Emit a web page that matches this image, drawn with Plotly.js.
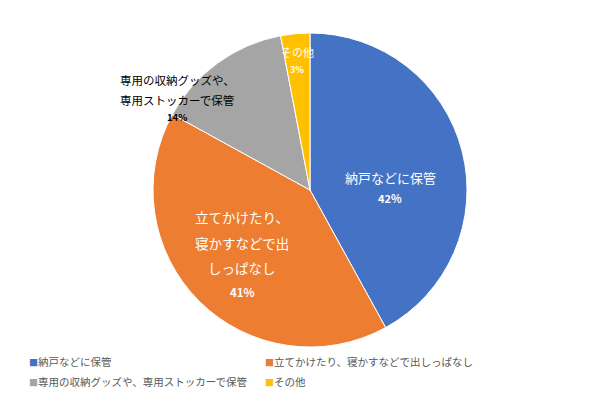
<!DOCTYPE html>
<html>
<head>
<meta charset="utf-8">
<script src="https://cdn.plot.ly/plotly-3.0.1.min.js"></script>
<style>html,body{margin:0;padding:0;background:#fff;}#chart{width:610px;height:394px;}</style>
</head>
<body>
<div id="chart"></div>
<script>
var categories = ['納戸などに保管', '立てかけたり、寝かすなどで出しっぱなし', '専用の収納グッズや、専用ストッカーで保管', 'その他'];
var sliceLabels = ['納戸などに保管', '立てかけたり、<br>寝かすなどで出<br>しっぱなし', '専用の収納グッズや、<br>専用ストッカーで保管', 'その他'];
var values = [42, 41, 14, 3];
var colors = ['#4472C4', '#ED7D31', '#A5A5A5', '#FFC000'];

var FONT = '"Noto Sans CJK JP", "Noto Sans", sans-serif';
var W = 610, H = 394;

var trace = {
  type: 'pie',
  values: values,
  labels: categories,
  sort: false,
  direction: 'clockwise',
  rotation: 0,
  textinfo: 'none',
  hoverinfo: 'label+percent',
  showlegend: false,
  marker: {colors: colors, line: {color: '#ffffff', width: 1}},
  domain: {x: [(310 - 157) / W, (310 + 157) / W], y: [(204 - 157) / H, (204 + 157) / H]}
};

// label positions (pixels) and styles
var labelPos = [
  {x: 390, y: 177, py: 198, size: 13, color: '#ffffff', lh: 25},
  {x: 242, y: 217, py: 292, size: 13.5, color: '#ffffff', lh: 25.5},
  {x: 177, y: 80, py: 117, size: 11.5, color: '#000000', lh: 20},
  {x: 297, y: 52, py: 69, size: 11, color: '#ffffff', lh: 17}
];

var annotations = [];
sliceLabels.forEach(function (t, i) {
  var p = labelPos[i];
  var lines = t.split('<br>');
  lines.forEach(function (ln, j) {
    annotations.push({
      xref: 'paper', yref: 'paper', x: p.x / W, y: 1 - (p.y + j * p.lh) / H,
      xanchor: 'center', yanchor: 'middle', showarrow: false, text: ln,
      font: {family: FONT, size: p.size, color: p.color}
    });
  });
  annotations.push({
    xref: 'paper', yref: 'paper', x: p.x / W, y: 1 - p.py / H,
    xanchor: 'center', yanchor: 'middle', showarrow: false,
    text: '<b>' + values[i] + '%</b>',
    font: {family: FONT, size: p.size - 2, color: p.color}
  });
});

// legend (two columns)
var legPos = [[27, 361], [263, 361], [27, 381], [263, 381]];
categories.forEach(function (c, i) {
  annotations.push({
    xref: 'paper', yref: 'paper', x: legPos[i][0] / W, y: 1 - legPos[i][1] / H,
    xanchor: 'left', yanchor: 'middle', showarrow: false,
    text: '<span style="color:' + colors[i] + ';font-size:9px">■</span>' + c,
    font: {family: FONT, size: 10.5, color: '#595959'}
  });
});

var layout = {
  width: W, height: H,
  margin: {l: 0, r: 0, t: 0, b: 0},
  paper_bgcolor: '#ffffff',
  plot_bgcolor: '#ffffff',
  showlegend: false,
  annotations: annotations,
  font: {family: FONT}
};

Plotly.newPlot('chart', [trace], layout, {displayModeBar: false, staticPlot: true});
</script>
</body>
</html>
